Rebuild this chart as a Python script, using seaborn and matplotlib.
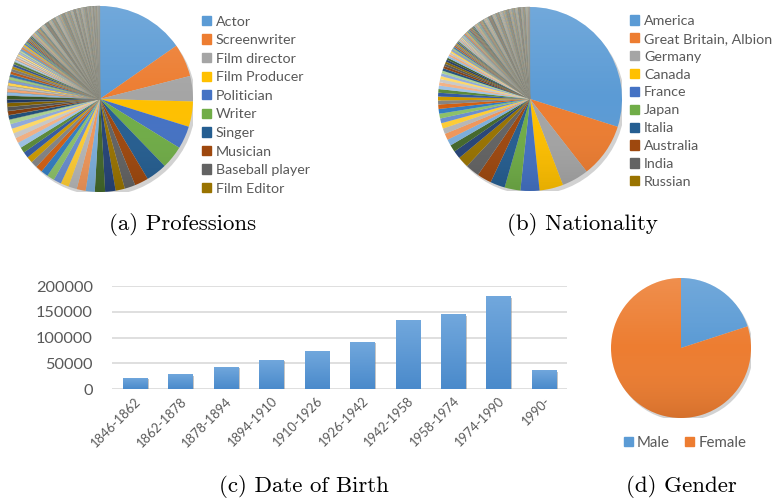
import colorsys
import numpy as np
import pandas as pd
import matplotlib
matplotlib.use("Agg")
import matplotlib.pyplot as plt
import matplotlib.colors as mcolors
import matplotlib.patheffects as pe
from matplotlib.patches import Patch, Circle
import seaborn as sns

# ---------------- data ----------------
prof_labels = ["Actor", "Screenwriter", "Film director", "Film Producer", "Politician",
               "Writer", "Singer", "Musician", "Baseball player", "Film Editor"]
prof_top = [1084, 404, 312, 312, 280, 284, 258, 170, 132, 114]
prof_tail = [128, 126, 112, 110, 104, 100, 96, 92, 88, 84, 80, 76, 74, 70, 68, 64, 62, 60, 58, 56,
             54, 52, 50, 48, 46, 44, 42, 40, 38, 38, 36, 36, 34, 34, 32, 32, 30, 30, 28, 28,
             26, 26, 24, 24, 22, 22, 20, 20, 20, 18, 18, 18, 16, 16, 16, 16, 14, 14, 14, 14,
             14, 12, 12, 12, 12, 12, 12, 10, 10, 10, 10, 10, 10, 10, 10, 9, 9, 9, 9, 9,
             8, 8, 8, 8, 8, 8, 8, 8, 8, 8, 8, 8, 8, 8, 8,
             7, 7, 7, 7, 7, 7, 7, 7, 7, 7, 7, 7, 7, 7, 7,
             6, 6, 6, 6, 6, 6, 6, 6, 6, 6, 6, 6, 6, 6, 6, 6, 6, 6, 6, 6,
             5, 5, 5, 5, 5, 5, 5, 5, 5, 5, 5, 5, 5, 5, 5, 5, 5, 5, 5, 5, 5, 5, 5,
             4, 4, 4, 4, 4, 4, 4, 4, 4, 4, 4, 4, 4, 4, 4, 4, 4, 4, 4, 4, 4, 4, 4, 4, 4, 4, 4, 4,
             3, 3, 3, 3, 3, 3, 3, 3, 3, 3, 3, 3, 3, 3, 3, 3, 3, 3, 3, 3, 3, 3, 3, 3, 3, 3, 3, 3, 3, 3]

nat_labels = ["America", "Great Britain, Albion", "Germany", "Canada", "France",
              "Japan", "Italia", "Australia", "India", "Russian"]
nat_top = [2152, 688, 340, 300, 240, 200, 186, 182, 176, 140]
nat_tail = [100, 90, 80, 80, 70, 70, 60, 60, 60, 56, 50,
            50, 48, 46, 44, 42, 40, 38, 36, 34, 32, 30, 30, 28, 28, 26, 26,
            24, 24, 22, 22, 20, 20, 20, 18, 18, 18,
            16, 16, 16, 16, 16, 16, 16, 16, 16, 16,
            14, 14, 14, 14, 14, 14, 14, 14, 14, 14,
            12, 12, 12, 12, 12, 12, 12, 12, 12, 12,
            10, 10, 10, 10, 10, 10, 10, 10, 10, 10, 10, 10,
            8, 8, 8, 8, 8, 8, 8, 8, 8, 8, 8, 8, 8, 8, 8,
            7, 7, 7, 7, 7, 7, 7, 7, 7, 7, 7, 7, 7, 7, 7, 7, 7, 7, 7, 7,
            6, 6, 6, 6, 6, 6, 6, 6, 6, 6, 6, 6, 6, 6, 6, 6, 6, 6, 6, 6,
            5, 5, 5, 5, 5, 5, 5, 5, 5, 5, 5, 5, 5, 5, 5, 5, 5, 5, 5, 5, 5, 5, 5]

birth_periods = ["1846-1862", "1862-1878", "1878-1894", "1894-1910", "1910-1926",
                 "1926-1942", "1942-1958", "1958-1974", "1974-1990", "1990-"]
birth_counts = [22600, 29700, 43900, 57400, 74800, 92300, 134200, 145800, 180600, 37400]
y_ticks = [0, 50000, 100000, 150000, 200000]

gender_labels = ["Male", "Female"]
gender_share = [20, 80]

# ---------------- style ----------------
sns.set_theme(style="white")
plt.rcParams["font.family"] = ["Lato", "DejaVu Sans"]
TXT = "#595959"
ACCENTS = ["#5B9BD5", "#ED7D31", "#A5A5A5", "#FFC000", "#4472C4", "#70AD47"]
MODS = [(1.0, 0.0), (0.6, 0.0), (0.8, 0.2), (0.8, 0.0), (0.6, 0.4), (0.5, 0.0),
        (0.7, 0.3), (0.7, 0.0), (0.5, 0.5)]


def office_color(i):
    base = mcolors.to_rgb(ACCENTS[i % 6])
    m, o = MODS[(i // 6) % len(MODS)]
    h, l, s = colorsys.rgb_to_hls(*base)
    l = min(1.0, l * m + o)
    return colorsys.hls_to_rgb(h, l, s)


W, H = 778, 499
fig = plt.figure(figsize=(W / 100, H / 100), dpi=100)


def px_axes(cx, cy, r):
    return fig.add_axes([(cx - r) / W, (H - cy - r) / H, 2 * r / W, 2 * r / H])


def shade_pie(ax):
    sh = Circle((0.03, -0.04), 1.0, color="#7f7f7f", alpha=0.35, zorder=0, lw=0)
    ax.add_patch(sh)
    grad = np.linspace(1, 0, 256).reshape(-1, 1)
    cmap = mcolors.LinearSegmentedColormap.from_list(
        "g", [(0, 0, 0, 0.10), (1, 1, 1, 0.0), (1, 1, 1, 0.14)])
    im = ax.imshow(grad, extent=[-1, 1, -1, 1], cmap=cmap, aspect="auto",
                   zorder=5, origin="upper", interpolation="bilinear")
    clip = Circle((0, 0), 1.0, transform=ax.transData)
    im.set_clip_path(clip)
    ax.set_xlim(-1.0, 1.0)
    ax.set_ylim(-1.0, 1.0)
    ax.axis("off")


def make_pie(cx, cy, r, values, n_clean=30):
    ax = px_axes(cx, cy, r)
    cols = [office_color(i) for i in range(len(values))]
    wedges, _ = ax.pie(values, colors=cols, startangle=90, counterclock=False, radius=1.0,
                       wedgeprops=dict(linewidth=0, zorder=2, antialiased=True))
    for i, w in enumerate(wedges):
        if i >= n_clean:
            w.set_edgecolor("#8e8e84")
            w.set_linewidth(0.22)
    shade_pie(ax)
    return ax, cols


LEG = dict(loc="upper left", frameon=False, fontsize=10.3, labelcolor=TXT,
           handlelength=0.62, handleheight=0.62, handletextpad=0.35,
           borderpad=0, borderaxespad=0)

# (a) Professions
ax_a, cols_a = make_pie(100, 99, 93, prof_top + prof_tail)
fig.legend([Patch(color=cols_a[i]) for i in range(10)], prof_labels,
           bbox_to_anchor=(202 / W, 1 - 15.5 / H), labelspacing=0.46, **LEG)

# (b) Nationality
ax_b, cols_b = make_pie(530, 99, 92, nat_top + nat_tail, n_clean=40)
fig.legend([Patch(color=cols_b[i]) for i in range(10)], nat_labels,
           bbox_to_anchor=(630 / W, 1 - 15 / H), labelspacing=0.41, **LEG)

# (c) Date of birth
ax_c = fig.add_axes([112.3 / W, (H - 389.3) / H, 454.4 / W, 103.3 / H])
df = pd.DataFrame({"period": birth_periods, "count": birth_counts})
sns.barplot(data=df, x="period", y="count", color="#5B9BD5", width=0.53,
            saturation=1, ax=ax_c, zorder=3)
for p in ax_c.patches:
    p.set_linewidth(0)
    p.set_path_effects([pe.SimplePatchShadow(offset=(1.2, -1.2), shadow_rgbFace="#808080", alpha=0.45),
                        pe.Normal()])
    x0, y0 = p.get_x(), p.get_y()
    w, h = p.get_width(), p.get_height()
    grad = np.linspace(0, 1, 128).reshape(-1, 1)
    cm = mcolors.LinearSegmentedColormap.from_list("b", ["#72A8DD", "#4A8ACB"])
    im = ax_c.imshow(grad, extent=[x0, x0 + w, y0, y0 + h], cmap=cm, aspect="auto",
                     zorder=4, origin="upper")
    im.set_clip_path(p)
ax_c.set_ylim(0, 200000)
ax_c.set_xlim(-0.5, len(birth_periods) - 0.5)
ax_c.set_yticks(y_ticks)
ax_c.set_yticklabels([str(v) for v in y_ticks])
ax_c.yaxis.grid(True, color="#D9D9D9", linewidth=1.2, zorder=0)
ax_c.set_axisbelow(True)
for s in ax_c.spines.values():
    s.set_visible(False)
ax_c.tick_params(axis="y", length=0, pad=14, labelsize=11.8, labelcolor=TXT)
ax_c.tick_params(axis="x", length=0, pad=4, labelsize=9.3, labelcolor=TXT)
for lab in ax_c.get_xticklabels():
    lab.set_rotation(45)
    lab.set_ha("right")
    lab.set_va("top")
    lab.set_rotation_mode("anchor")
ax_c.set_xlabel("")
ax_c.set_ylabel("")
ax_c.set_facecolor("none")

# (d) Gender
ax_d, _ = make_pie(681, 348, 70, gender_share)
fig.legend([Patch(color=ACCENTS[0]), Patch(color=ACCENTS[1])], gender_labels,
           loc="center", bbox_to_anchor=(685 / W, 1 - 443 / H), ncol=2, frameon=False,
           fontsize=10.8, labelcolor=TXT, handlelength=0.6, handleheight=0.6,
           handletextpad=0.3, columnspacing=1.0, borderpad=0, borderaxespad=0)

# captions
cap = dict(family="cmr10", fontsize=16.5, ha="center", va="center", color="black")
fig.text(183 / W, 1 - 225 / H, "(a) Professions", **cap)
fig.text(582 / W, 1 - 225 / H, "(b) Nationality", **cap)
fig.text(304 / W, 1 - 486 / H, "(c) Date of Birth", **cap)
fig.text(681 / W, 1 - 486 / H, "(d) Gender", **cap)

fig.savefig("out.png", dpi=100)
